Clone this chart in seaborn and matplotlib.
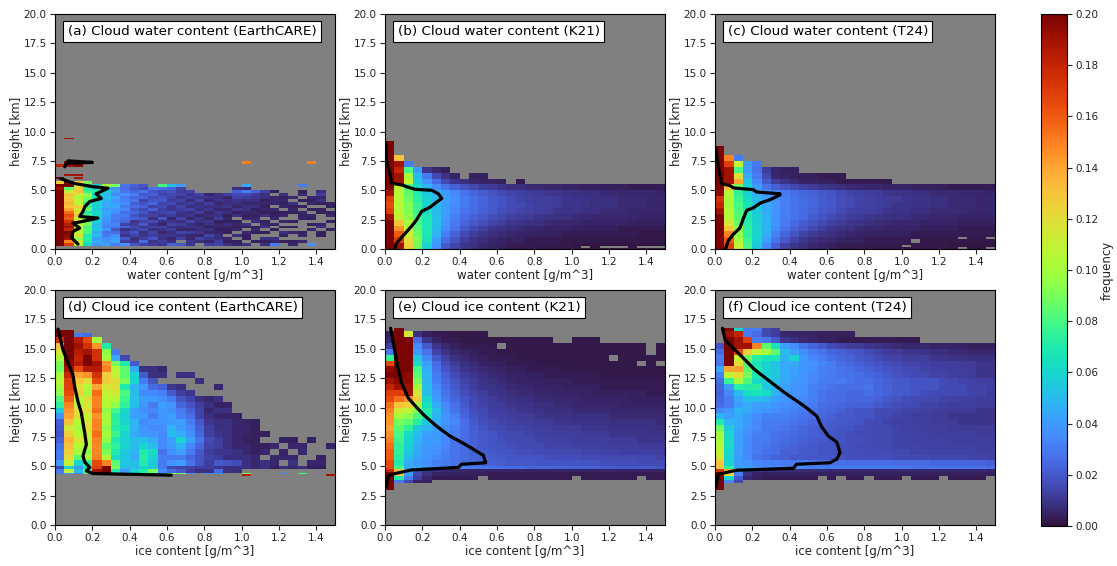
import numpy as np
import pandas as pd
import matplotlib
matplotlib.use("Agg")
import matplotlib.pyplot as plt
import seaborn as sns

n = np.nan
titles = ["(a) Cloud water content (EarthCARE)", "(b) Cloud water content (K21)", "(c) Cloud water content (T24)",
          "(d) Cloud ice content (EarthCARE)", "(e) Cloud ice content (K21)", "(f) Cloud ice content (T24)"]

# frequency x 1000; one list per height bin, bottom to top, columns are 0.05 g/m^3 bins
edges_a = [0.25,0.5,0.75,1,1.25,1.5,1.75,2,2.25,2.5,2.75,3,3.25,3.5,3.75,4,4.25,4.5,4.75,5,5.25,5.5,5.75,5.95,6.1,6.25,6.35,7.0,7.2,7.45,9.35,9.45]
rows_a = [
[200,170,105,62,38,42,30,36,18,14,12,10,22,20,10,n,12,14,8,6,8,n,8,30,n,6,n,36,n,n],
[200,150,110,70,45,38,44,12,10,25,10,12,8,n,10,8,6,12,4,4,n,4,4,6,4,4,6,n,n,n],
[200,190,95,72,40,36,42,20,8,12,18,8,6,12,6,14,10,8,6,n,4,n,8,8,n,n,n,n,n,n],
[200,195,120,70,50,30,36,10,14,10,12,10,10,8,6,6,14,8,n,8,4,n,n,n,4,n,6,n,4,n],
[200,200,105,80,45,28,26,14,18,8,14,6,8,14,12,10,6,6,4,n,6,4,4,n,8,6,4,n,4,n],
[200,180,100,85,55,38,20,8,12,16,8,10,12,6,6,8,8,4,4,6,n,6,n,4,n,n,n,6,n,4],
[200,190,110,78,52,32,28,22,16,10,14,14,8,8,10,8,4,6,6,4,4,4,8,n,4,4,n,n,8,n],
[200,185,105,90,50,34,34,14,12,20,10,6,14,12,8,6,8,6,8,6,8,n,6,6,n,n,n,4,6,n],
[200,175,120,85,58,36,30,24,10,14,16,8,10,8,14,8,10,4,4,4,n,8,4,n,6,4,n,n,n,4],
[200,160,110,75,55,40,32,26,22,18,8,18,6,14,6,10,6,12,6,n,6,6,n,6,n,n,6,4,n,n],
[200,165,130,80,60,42,30,30,18,14,14,10,12,8,10,6,8,8,4,8,4,4,8,4,6,n,4,6,n,6],
[200,155,120,70,62,44,36,26,24,18,12,14,16,10,8,12,6,10,8,4,6,6,4,4,4,4,6,n,4,4],
[200,140,115,85,56,42,40,34,20,16,22,12,10,12,14,8,10,6,6,10,8,4,6,6,n,6,n,4,4,n],
[200,130,125,80,58,46,44,30,26,22,14,16,10,14,8,10,8,8,10,6,8,8,4,n,6,4,4,n,n,4],
[200,135,105,72,60,44,42,36,22,18,24,14,16,10,12,8,12,6,8,8,6,6,6,6,4,8,n,6,4,4],
[200,130,110,85,62,48,38,32,28,14,20,20,12,14,8,14,6,10,8,10,8,8,4,6,6,n,4,4,8,n],
[200,125,100,90,70,52,44,30,24,24,16,18,14,10,12,10,10,8,6,14,12,10,8,6,4,6,n,6,6,n],
[200,130,115,95,60,50,34,36,30,20,22,14,16,14,10,14,6,8,12,16,16,12,8,n,8,n,6,n,12,n],
[200,110,130,78,72,56,42,28,24,28,18,16,18,12,14,n,n,n,n,22,32,22,14,4,n,n,4,n,8,n],
[190,85,125,70,60,48,38,26,20,16,28,26,22,14,n,n,n,n,n,8,6,n,n,n,n,n,n,n,n,n],
[200,200,110,62,60,100,90,28,22,18,n,80,50,40,n,n,n,n,n,n,45,n,n,n,n,n,30,n,n,n],
[125,200,125,90,n,n,n],
[],
[200,n,190],
[],
[n,190,190],
[],
[180,190,200],
[n,200,200,200,n,n,n,n,n,n,n,n,n,n,n,n,n,n,n,n,150,n,n,n,n,n,n,150],
[],
[n,190],
]

edges_b = [0,0.1,0.25,0.5,1,1.5,2,2.5,3,3.5,4,4.5,5,5.5,6,6.5,7,7.5,8,9.2]
rows_b = [
[200,190,125,90,60,38,20,14,10,8,6,5,4,3,3,3,2,2,2,2,1,1,1,1,1,1,1,1,1,1],
[200,190,125,90,60,38,20,14,10,8,6,5,4,3,3,3,2,2,2,2,1,n,1,n,n,n,1,n,n,n],
[200,190,125,90,60,38,20,14,10,8,6,5,4,3,3,3,2,2,2,2,1,1,1,1,1,1,1,1,1,1],
[200,170,120,92,65,42,26,18,12,9,8,6,5,4,4,3,3,3,3,2,2,2,2,2,2,2,2,2,2,2],
[200,160,110,88,68,48,32,22,16,12,10,8,7,6,5,5,4,4,4,3,3,3,3,3,3,3,3,2,2,2],
[200,145,105,85,68,50,36,28,20,16,13,10,9,8,7,6,6,5,5,5,4,4,4,4,4,3,3,3,3,3],
[200,130,100,82,68,52,38,30,24,20,17,14,12,10,9,8,8,7,6,6,6,5,5,5,5,5,4,4,4,4],
[190,110,95,80,68,52,40,32,26,22,20,17,15,13,12,11,10,9,8,8,7,7,6,6,6,6,6,5,5,5],
[170,105,92,78,62,50,42,34,28,25,22,20,17,15,14,13,12,11,10,9,9,8,8,7,7,7,6,6,6,6],
[165,105,92,76,60,50,42,35,30,26,23,20,18,16,15,14,12,12,11,10,10,9,8,8,8,7,7,7,6,6],
[170,105,88,72,58,50,42,36,30,26,23,20,18,16,14,13,12,12,11,10,10,9,8,8,8,7,7,7,6,6],
[190,105,85,70,55,48,40,34,28,24,21,18,16,14,13,12,11,10,10,9,8,8,8,7,7,6,6,6,6,5],
[200,110,80,62,48,36,28,22,18,15,12,11,10,8,8,7,7,6,6,5,5,4,4,4,4,4,3,3,3,3],
[200,190,110,55,38,25,15,10,8,6,5,5,4,n,3],
[200,190,100,50,30,15,9,5,n,4,4],
[200,180,80,40,10,6,4],
[200,190,30],
[200,130],
[200],
]

edges_c = [0,0.15,0.3,0.5,0.85,1,1.5,2,2.5,3,3.5,4,4.5,5,5.5,6,6.5,7,7.5,8,8.75]
rows_c = [
[200,170,110,80,55,35,22,14,10,8,6,5,4,3,3,3,2,2,2,2,2,2,2,2,2,1,n,1,1,n],
[200,170,110,80,55,35,22,14,10,8,6,5,4,3,3,3,2,2,2,2,n,2,2,2,2,1,1,1,1,1],
[200,170,110,80,55,35,22,14,10,8,6,5,4,3,3,3,2,2,2,2,2,2,2,2,2,1,1,1,1,1],
[200,160,100,78,58,42,28,20,14,10,8,7,6,5,4,4,3,3,3,3,3,n,2,2,2,2,2,2,2,2],
[200,160,100,78,58,42,28,20,14,10,8,7,6,5,4,4,3,3,3,3,3,3,2,2,2,2,n,2,2,n],
[200,150,95,75,60,46,32,24,18,14,11,9,8,7,6,5,5,4,4,4,4,3,3,3,3,3,3,3,3,3],
[200,130,95,75,60,48,36,28,22,18,15,12,10,9,8,7,6,6,5,5,5,5,4,4,4,4,3,3,3,3],
[200,115,88,72,58,48,38,30,25,21,18,15,13,11,10,9,8,7,7,6,6,6,5,5,5,5,4,4,4,4],
[200,105,85,70,58,48,38,31,28,25,21,18,16,14,12,11,10,9,8,8,8,7,7,6,6,6,5,5,5,5],
[190,105,82,68,55,46,38,32,28,25,23,20,18,16,14,13,12,11,10,9,9,8,8,7,7,7,7,6,6,6],
[180,100,80,65,54,44,38,32,28,26,24,21,20,17,15,14,13,12,11,10,10,9,9,8,8,7,7,7,6,6],
[175,102,78,62,50,42,36,32,28,25,23,21,19,17,15,14,13,12,11,11,10,9,9,8,8,7,7,7,6,6],
[195,105,75,60,48,38,34,30,26,24,22,20,18,16,14,13,12,11,10,9,9,8,8,7,7,7,6,6,6,5],
[200,130,88,58,40,28,22,18,15,13,11,10,9,8,7,6,6,6,5,5,5,4,4,4,4,3,3,3,3,3],
[200,190,140,55,35,20,12,9,7,5,5,4,4,3,3,3,3,3,3],
[200,190,120,45,30,15,6,5,4,4,4,3,3,3],
[200,190,80,40,28,12,6,4,4],
[200,170,110,40,30],
[200,150,30],
[200],
]

edges_d = [4.2,4.3,4.45,4.75,5,5.5,6,6.5,7,7.5,8,8.5,9,9.5,10,10.5,11,11.5,12,12.5,13,13.5,14,14.5,15,15.5,16,16.3,16.6]
rows_d = [
[n,n,n,n,n,n,n,n,n,n,n,n,n,n,n,n,n,n,n,n,185,n,n,n,n,n,n,n,n,190],
[30,40,35,80,60,35,35,40,35,35,30,30,90,90,35,n,35,35,n,n,90,n,n,n,35,n,80,n,n,n],
[30,110,50,80,190,200,70,40,60,70,90,35,25,20,12,8,8,25,8,8],
[15,60,40,65,170,200,90,50,50,60,55,30,15,14,14,12,12,10,8,8,8,6,8,4,8,6,8,4,4],
[40,110,60,75,165,150,85,55,50,70,55,30,38,40,28,18,12,20,18,16,8,6,8,6,n,8,n,6,6,n],
[30,120,85,100,150,105,62,55,45,72,58,32,30,30,24,18,14,12,8,8,8,6,n,6,6,6,n,n,4,n],
[30,125,100,95,148,90,70,55,48,70,62,28,36,42,30,20,12,10,10,8,6,4,6,n,5,n,6,n,n,n],
[28,130,105,105,148,85,75,60,50,58,50,35,40,48,34,24,14,12,8,6,6,4,4,6,n,6,6,n,n,5],
[22,135,115,108,150,95,70,58,50,52,45,35,42,60,42,28,16,12,8,6,4,4,n,n,4,4,n,4],
[18,125,105,110,155,100,78,60,45,40,38,35,50,46,36,24,12,10,8,6,5,4,4],
[20,115,100,120,150,95,72,65,48,38,35,36,48,40,34,22,12,8,8,6,6,4],
[22,130,105,115,150,100,75,60,48,35,38,38,40,42,30,20,10,8,8,6,5,4],
[38,140,120,110,145,100,72,58,42,40,30,38,42,32,26,14,8,6,5,5],
[55,145,120,120,155,95,80,62,42,36,34,40,36,30,22,14,6,8,8],
[75,150,110,115,150,105,95,75,50,38,30,42,38,24,18,12,8,5,5],
[82,160,105,120,150,105,105,78,52,42,40,36,30,18,14,8,6,8],
[95,165,125,100,155,110,115,82,50,35,35,32,20,12,10],
[100,170,120,105,140,115,120,70,48,40,25,22,10,8,n,n,n,6],
[105,170,130,120,165,125,120,90,60,30,18,n,n,n,n,8],
[100,180,140,145,175,125,110,85,58,20,8,8,n,8,8],
[88,190,165,185,185,150,105,85,45,8,8,6],
[90,195,185,200,190,145,90,70,20],
[100,200,180,200,175,100,45,15],
[115,200,185,190,175,95,30],
[130,200,190,175,145,70],
[175,200,185,165,100],
[200,200,30,25],
[200,200],
]

edges_e = [3,3.6,3.85,4.2,4.5,4.8,5,5.5,6,6.5,7,7.5,8,8.5,9,9.5,10,10.5,11,11.5,12,12.5,13,13.5,14,14.5,15,15.5,16,16.5,16.75]
rows_e = [
[200],
[200,30,15,5,4],
[200,70,30,12,6,3,3,3,3,3,n,3,3,3,3,3,3,3,3,3,n,3,3,3,3,3,3,n,3,3],
[200,130,40,15,8,5,4,4,4,4,4,3,3,3,3,3,3,3,3,3,3,3,3,3,3,3,3,3,3,3],
[180,130,50,15,10,8,7,6,6,5,5,5,5,5,5,5,5,5,5,5,5,5,5,5,5,5,5,5,5,5],
[165,80,45,45,40,38,36,34,32,30,28,27,26,25,25,24,24,24,23,23,22,22,22,21,21,20,20,20,20,18],
[165,70,45,40,36,32,30,28,26,24,23,22,21,20,20,20,19,19,18,18,18,18,18,17,17,17,17,16,16,16],
[160,72,50,42,38,35,32,28,25,23,22,21,20,19,19,18,18,17,17,17,17,16,16,16,15,15,15,15,15,14],
[160,75,55,45,38,36,32,28,25,22,21,20,18,18,17,17,16,16,15,15,15,14,14,14,14,13,13,13,13,12],
[155,75,58,45,40,38,34,28,25,22,20,19,18,17,16,15,15,14,14,14,13,13,13,12,12,12,12,11,11,11],
[150,78,60,48,40,40,34,28,25,22,20,18,17,16,15,15,14,14,13,13,12,12,12,12,11,11,11,10,10,10],
[145,80,62,50,42,40,36,30,26,22,20,18,16,15,15,14,13,13,12,12,12,11,11,11,10,10,10,10,9,9],
[140,85,75,55,48,42,36,32,26,22,18,16,15,14,14,13,12,12,11,11,11,10,10,10,9,9,9,9,9,8],
[145,90,85,72,55,45,38,34,26,20,17,15,14,13,12,12,11,11,10,10,9,9,9,9,8,8,8,8,8,7],
[145,100,95,82,68,48,38,32,24,18,16,14,13,12,11,11,10,9,9,9,8,8,8,8,7,7,7,7,7,7],
[150,115,108,92,72,50,36,28,22,17,15,13,12,11,10,10,9,8,8,8,7,7,7,7,6,6,6,6,6,6],
[155,130,125,100,65,46,34,26,20,16,14,12,11,10,9,9,8,8,7,7,6,6,6,6,6,5,5,5,5,5],
[165,155,145,125,60,42,30,24,19,15,13,11,10,9,8,8,7,7,6,6,6,5,5,5,5,5,4,4,4,4],
[170,170,190,115,52,38,28,22,17,14,12,10,9,8,7,7,6,6,5,5,5,5,4,4,4,4,4,4,3,3],
[180,190,190,100,50,35,26,20,15,12,10,9,8,7,6,6,5,5,5,4,4,4,4,3,3,3,3,3,3,3],
[190,195,195,92,48,32,24,18,14,11,9,8,7,6,5,5,5,4,4,4,3,3,3,3,3,3,3,3,3,3],
[200,200,195,85,48,30,22,16,12,10,8,7,6,5,5,4,4,3,3,3,3,3,3,2,2,2,2,2,2,2],
[195,200,200,80,46,28,19,14,10,8,7,6,5,4,4,3,3,3,3,2,2,2,2,2,2,2,2,2,2,2],
[165,200,200,62,42,25,16,11,8,7,5,4,4,3,3,3,2,2,2,2,2,2,2,2,2,2,2,n,2,n],
[75,200,200,55,35,20,13,8,7,5,4,3,3,3,2,2,2,2,2,2,2,2,2,2,n,2,2,2,2,2],
[30,200,200,40,28,14,9,6,5,4,3,3,2,2,2,2,2,2,2,2,2,2,2,2,2,2,2,2,n,2],
[12,200,200,35,20,10,6,4,3,3,3,2,n,2,2,2,2,2,2,2,2,2,2,2,2,2,2,2,n,2],
[6,200,200,25,10,5,3,3,2,2,2,2,2,2,2,2,2,2,n,n,2,2,2,n,n,n,n,n,n,n],
[5,200,115,8,4,3,3,2,2,2,2],
[n,200],
]

edges_f = edges_e
rows_f = [
[200],
[200,35,15],
[200,60,20,6,4,3,3,3,3,3,3,n,3,n,3,3,n,3,3,3,n,3,3,3,n,3,3,3,3,n],
[200,120,30,8,5,4,4,4,4,4,4,4,4,4,4,4,4,4,4,4,4,4,4,4,4,4,4,4,4,4],
[175,140,40,12,10,8,8,7,7,7,7,7,6,6,6,6,6,6,6,6,6,6,6,6,6,6,6,6,6,6],
[130,75,42,40,38,36,36,34,34,34,32,32,30,30,30,30,30,30,30,29,29,28,28,28,28,28,28,28,28,26],
[130,60,40,38,34,32,32,30,30,30,28,28,28,26,26,26,26,26,26,25,25,25,25,24,24,24,24,24,24,22],
[115,58,42,35,28,25,22,22,20,20,19,19,18,18,17,17,17,17,17,16,16,16,16,15,15,15,15,14,14,14],
[110,60,42,34,30,27,26,22,22,20,20,18,18,17,17,17,16,16,16,15,15,14,14,14,14,14,14,14,13,13],
[105,62,42,35,30,28,26,24,22,21,20,19,18,17,17,16,16,15,15,14,14,14,13,13,13,13,13,13,12,12],
[100,62,42,35,30,30,27,25,24,22,21,20,19,18,17,17,16,15,15,14,14,13,13,13,13,12,12,12,12,12],
[100,60,42,36,32,30,27,26,25,24,22,21,19,18,17,16,16,15,15,14,14,13,13,12,12,12,12,12,11,11],
[88,55,44,38,35,30,30,28,26,24,22,21,20,18,18,17,16,15,15,14,13,13,12,12,12,11,11,11,11,11],
[70,48,44,40,34,30,30,30,28,26,24,22,21,20,19,18,16,15,14,13,13,12,12,11,11,11,10,10,10,10],
[48,42,46,40,36,32,32,32,30,28,26,24,22,20,20,18,18,16,15,14,13,12,12,11,11,10,10,10,10,10],
[34,38,48,44,40,38,36,34,32,30,27,25,24,22,20,18,18,16,16,15,14,14,13,12,12,11,11,11,10,10],
[26,30,42,46,42,42,38,36,34,32,30,26,25,24,23,22,22,20,18,17,16,15,14,14,13,12,12,12,11,11],
[24,30,44,52,52,48,42,38,36,34,32,28,26,25,24,24,24,22,20,18,17,16,15,15,14,14,13,13,12,12],
[22,34,50,64,66,62,48,40,38,36,32,28,26,26,24,24,26,24,22,20,20,18,17,16,16,15,15,14,14,12],
[24,40,72,70,72,55,48,42,38,36,32,30,28,26,26,26,28,24,22,20,20,18,18,18,16,16,15,14,14,13],
[26,76,100,82,62,56,52,44,40,38,34,30,30,30,28,26,26,24,22,20,20,18,18,18,16,15,14,14,13,12],
[32,108,120,90,68,58,54,46,42,38,34,32,30,28,28,26,24,22,20,18,17,16,15,14,14,13,12,11,10,10],
[45,140,140,85,70,58,54,46,42,38,36,32,30,28,26,24,22,20,18,17,16,15,14,13,13,12,12,11,10,10],
[30,200,120,82,66,58,52,44,45,38,38,34,30,26,24,22,20,18,17,16,14,14,13,12,12,12,11,11,10,10],
[30,200,110,88,72,66,68,48,60,40,34,30,26,24,22,20,18,16,14,14,12,12,12,10,10,9,9,8,8,8],
[25,200,165,125,110,100,85,50,42,36,30,28,24,22,20,18,16,14,12,11,10,10,9,8,8,7,7,6,6,6],
[18,200,190,190,150,85,65,42,36,28,24,20,16,14,12,11,10,9,8,7,6,6,6,5,5,5,5,4,4,4],
[n,200,190,170,30,28,20,10,8,6,5,4,4,3,3,3,3,3,3,3,3,3],
[n,190,180,30,25,15,12,6,5,5,5,4,4,4,4],
[n,200,60,30,30,15,12],
]

# mean profile: content in g/m^3 and height in km
mean_a_low = [.123,.09,.096,.132,.096,.15,.23,.132,.15,.16,.186,.248,.22,.284,.204,.096,.029]
height_a_low = [.42,.93,1.5,1.78,2.2,2.35,2.63,2.77,3.2,3.6,4.04,4.3,4.7,5.17,5.3,5.6,6.0]
mean_a_high = [.052,.07,.2,.07]
height_a_high = [7.0,7.5,7.37,7.3]
mean_b = [.054,.062,.098,.143,.17,.196,.241,.277,.304,.286,.25,.16,.116,.09,.036,.027,.009,.004]
height_b = [.05,.5,1.15,1.95,2.5,3.2,3.55,4.0,4.3,4.7,5.0,5.08,5.3,5.45,5.6,6.4,7.5,9.0]
mean_c = [.057,.071,.098,.134,.152,.17,.205,.241,.295,.348,.348,.223,.205,.098,.08,.036,.02,.004]
height_c = [.05,.7,1.25,1.8,2.6,3.3,3.5,3.9,4.2,4.6,4.7,4.85,5.05,5.2,5.4,5.55,6.8,8.6]
mean_d = [.623,.204,.168,.186,.159,.15,.168,.159,.141,.123,.105,.096,.07,.043,.016]
height_d = [4.24,4.38,4.6,4.89,5.37,5.88,6.86,7.85,9.55,10.5,11.8,12.8,13.8,14.9,16.67]
mean_e = [.005,.018,.054,.143,.393,.41,.54,.527,.42,.348,.277,.214,.17,.125,.089,.063,.045,.03]
height_e = [3.2,4.18,4.38,4.69,4.9,5.17,5.3,5.93,6.95,7.57,8.4,9.27,10,10.8,12.1,13.8,15.5,16.75]
mean_f = [.005,.018,.116,.42,.437,.616,.652,.67,.652,.607,.57,.545,.48,.375,.304,.214,.16,.107,.054,.04]
height_f = [3.2,4.32,4.66,4.83,5.17,5.3,5.6,6.16,7.06,7.57,8.4,9.27,10.1,11.24,12.1,13.2,14.07,14.9,15.76,16.75]

content_edges = np.linspace(0, 1.5, 31)
x_ticks = [0.0, 0.2, 0.4, 0.6, 0.8, 1.0, 1.2, 1.4]
y_ticks = [0.0, 2.5, 5.0, 7.5, 10.0, 12.5, 15.0, 17.5, 20.0]
cbar_ticks = [0.00, 0.02, 0.04, 0.06, 0.08, 0.10, 0.12, 0.14, 0.16, 0.18, 0.20]

sns.set_theme(style="ticks", rc={"axes.linewidth": 0.8, "axes.edgecolor": "black",
                                 "xtick.color": "#222222", "ytick.color": "#222222",
                                 "xtick.major.size": 3.5, "ytick.major.size": 3.5,
                                 "xtick.major.width": 0.8, "ytick.major.width": 0.8,
                                 "font.size": 7.5, "axes.labelcolor": "#222222"})
plt.rcParams["font.family"] = ["DejaVu Sans"]

W, H = 1117, 566
fig = plt.figure(figsize=(W / 100, H / 100), dpi=100)
lefts = [55, 385, 715]
tops = [14, 290]
pw, ph = 280, 235

def grid(rows):
    out = np.full((len(rows), 30), np.nan)
    for i, r in enumerate(rows):
        out[i, :len(r)] = np.array(r, dtype=float) / 1000.0
    return out

panels = [
    (edges_a, rows_a, [(mean_a_low, height_a_low), (mean_a_high, height_a_high)], "water content [g/m^3]"),
    (edges_b, rows_b, [(mean_b, height_b)], "water content [g/m^3]"),
    (edges_c, rows_c, [(mean_c, height_c)], "water content [g/m^3]"),
    (edges_d, rows_d, [(mean_d, height_d)], "ice content [g/m^3]"),
    (edges_e, rows_e, [(mean_e, height_e)], "ice content [g/m^3]"),
    (edges_f, rows_f, [(mean_f, height_f)], "ice content [g/m^3]"),
]

mesh = None
for i, (edges, rows, lines, xlabel) in enumerate(panels):
    L = lefts[i % 3]
    T = tops[i // 3]
    ax = fig.add_axes([L / W, 1 - (T + ph) / H, pw / W, ph / H])
    ax.set_facecolor("#808080")
    mesh = ax.pcolormesh(content_edges, edges, grid(rows), cmap="turbo", vmin=0, vmax=0.2)
    for xs, ys in lines:
        profile = pd.DataFrame({"content": xs, "height": ys})
        sns.lineplot(data=profile, x="content", y="height", estimator=None, sort=False,
                     orient="y", color="black", lw=2.3, ax=ax, legend=False)
    ax.set_xlim(0, 1.5)
    ax.set_ylim(0, 20)
    ax.set_xticks(x_ticks)
    ax.set_yticks(y_ticks)
    ax.tick_params(labelsize=7.5, pad=2.5)
    ax.set_xlabel(xlabel, fontsize=8.5, labelpad=1.5)
    ax.set_ylabel("height [km]", fontsize=8.5, labelpad=0.5)
    ax.text(0.045, 0.925, titles[i], transform=ax.transAxes, fontsize=9.7, va="center", ha="left",
            color="black", bbox=dict(facecolor="white", edgecolor="black", linewidth=0.8, pad=3))
    for s in ax.spines.values():
        s.set_visible(True)

cax = fig.add_axes([1041 / W, 1 - 526 / H, 26 / W, 512 / H])
cb = fig.colorbar(mesh, cax=cax)
cb.set_ticks(cbar_ticks)
cb.ax.tick_params(labelsize=7.5, pad=2.5)
cb.set_label("frequency", fontsize=8.5, labelpad=2)
cb.outline.set_linewidth(0.8)

fig.savefig("out.png", dpi=100)
